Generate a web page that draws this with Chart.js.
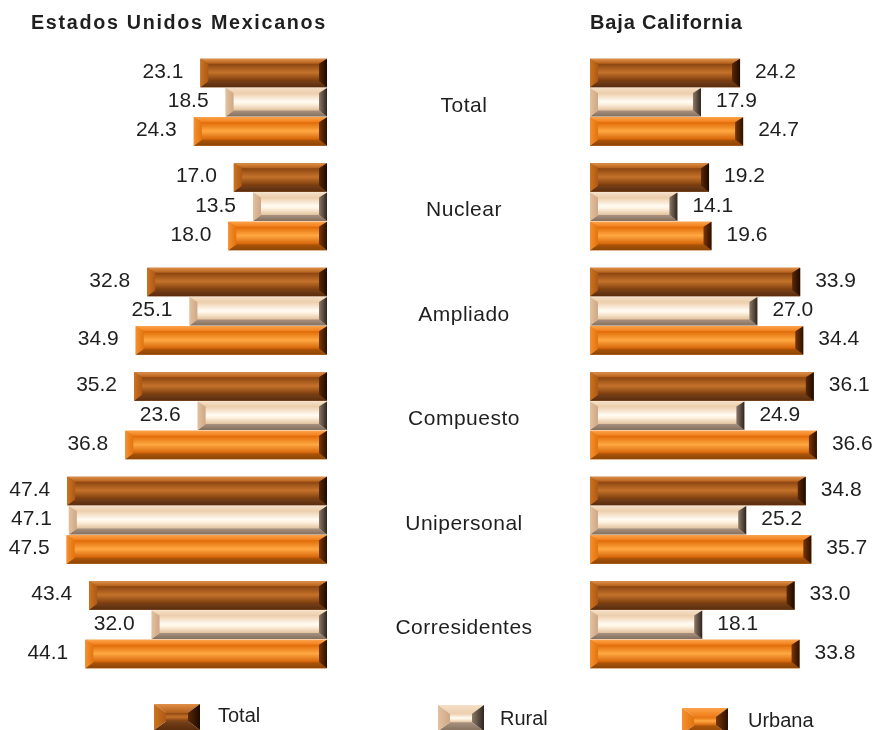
<!DOCTYPE html>
<html><head><meta charset="utf-8">
<script src="https://cdn.jsdelivr.net/npm/chart.js@4.4.1/dist/chart.umd.min.js"></script>
<style>
html,body{margin:0;padding:0;background:#fff;}
#wrap{position:relative;width:873px;height:730px;overflow:hidden;font-family:'Liberation Sans',Arial,sans-serif;}
#wrap canvas.chart{position:absolute;left:0;top:0;}
.legItem{position:absolute;}
.legItem canvas{position:absolute;left:0;top:0;}
.legItem span{position:absolute;white-space:nowrap;font-size:20px;line-height:24px;color:#1f1f1f;}
</style></head><body>
<div id="wrap">
<canvas id="cL" class="chart" width="873" height="730"></canvas>
<canvas id="cR" class="chart" width="873" height="730"></canvas>
<div id="legend"></div>
</div>
<script>
// ---------- data ----------
const categories = ['Total', 'Nuclear', 'Ampliado', 'Compuesto', 'Unipersonal', 'Corresidentes'];
const seriesNames = ['Total', 'Rural', 'Urbana'];
const mexTotal  = [23.1, 17.0, 32.8, 35.2, 47.4, 43.4];
const mexRural  = [18.5, 13.5, 25.1, 23.6, 47.1, 32.0];
const mexUrbana = [24.3, 18.0, 34.9, 36.8, 47.5, 44.1];
const bcTotal   = [24.2, 19.2, 33.9, 36.1, 34.8, 33.0];
const bcRural   = [17.9, 14.1, 27.0, 24.9, 25.2, 18.1];
const bcUrbana  = [24.7, 19.6, 34.4, 36.6, 35.7, 33.8];
const titleMex = 'Estados Unidos Mexicanos';
const titleBC = 'Baja California';

// ---------- styles ----------
const FAMILY = "'Liberation Sans', Arial, sans-serif";
const TEXT = '#1f1f1f';
const palettes = [
  { base:'#9c4f14',
    top:['#e09048','#b35f1b'], face:[[0,'#8a4410'],[0.5,'#c4722a'],[1,'#783a0c']],
    bottom:['#74401a','#5a2c0c'], left:['#cc7420','#ad5816'], right:['#5a2806','#1e0a00'] },
  { base:'#f3d6b6',
    top:['#f6dfc6','#ebcfae'], face:[[0,'#eecdaa'],[0.48,'#fffbf3'],[0.62,'#fff3e2'],[1,'#e2c29c']],
    bottom:['#a89180','#84705e'], left:['#e2c09e','#cfa886'], right:['#8c7a6a','#2e241c'] },
  { base:'#ef7a12',
    top:['#fca24a','#f07c18'], face:[[0,'#e06a06'],[0.5,'#ffa842'],[1,'#d46206']],
    bottom:['#ad5609','#8a4406'], left:['#f59030','#e2740e'], right:['#7a3604','#2a1000'] }
];

function poly(ctx, pts, fill){
  ctx.beginPath();
  ctx.moveTo(pts[0][0], pts[0][1]);
  for (let k = 1; k < pts.length; k++) ctx.lineTo(pts[k][0], pts[k][1]);
  ctx.closePath();
  ctx.fillStyle = fill;
  ctx.fill();
}
function drawBevel(ctx, x0, y0, x1, y1, pal, sz){
  const w = x1 - x0, h = y1 - y0;
  if (w <= 0 || h <= 0) return;
  const bx = Math.min(sz.side, w / 2), bt = Math.min(sz.top, h / 3), bb = Math.min(sz.bottom, h / 3);
  ctx.save();
  let g = ctx.createLinearGradient(0, y0 + bt, 0, y1 - bb);
  pal.face.forEach(s => g.addColorStop(s[0], s[1]));
  ctx.fillStyle = g;
  ctx.fillRect(x0 + bx - 0.5, y0 + bt - 0.5, w - 2 * bx + 1, h - bt - bb + 1);
  g = ctx.createLinearGradient(0, y0, 0, y0 + bt);
  g.addColorStop(0, pal.top[0]); g.addColorStop(1, pal.top[1]);
  poly(ctx, [[x0, y0], [x1, y0], [x1 - bx, y0 + bt], [x0 + bx, y0 + bt]], g);
  g = ctx.createLinearGradient(0, y1 - bb, 0, y1);
  g.addColorStop(0, pal.bottom[0]); g.addColorStop(1, pal.bottom[1]);
  poly(ctx, [[x0, y1], [x1, y1], [x1 - bx, y1 - bb], [x0 + bx, y1 - bb]], g);
  g = ctx.createLinearGradient(x0, 0, x0 + bx, 0);
  g.addColorStop(0, pal.left[0]); g.addColorStop(1, pal.left[1]);
  poly(ctx, [[x0, y0], [x0 + bx, y0 + bt], [x0 + bx, y1 - bb], [x0, y1]], g);
  g = ctx.createLinearGradient(x1 - bx, 0, x1, 0);
  g.addColorStop(0, pal.right[0]); g.addColorStop(1, pal.right[1]);
  poly(ctx, [[x1, y0], [x1 - bx, y0 + bt], [x1 - bx, y1 - bb], [x1, y1]], g);
  ctx.restore();
}

const bevelPlugin = {
  id: 'bevelBars',
  beforeDraw(chart, args, opts){ chart.ctx.letterSpacing = opts.letterSpacing || '0px'; },
  beforeDatasetsDraw(chart){ chart.ctx.letterSpacing = '0px'; },
  afterDatasetsDraw(chart, args, opts){
    const ctx = chart.ctx;
    ctx.letterSpacing = '0px';
    chart.data.datasets.forEach((ds, di) => {
      const meta = chart.getDatasetMeta(di);
      meta.data.forEach((el, i) => {
        const p = el.getProps(['x', 'y', 'base', 'height'], true);
        const x0 = Math.min(p.x, p.base), x1 = Math.max(p.x, p.base);
        drawBevel(ctx, x0, p.y - p.height / 2, x1, p.y + p.height / 2, palettes[di], {side:8, top:5, bottom:6});
        ctx.save();
        ctx.font = '21px ' + FAMILY;
        ctx.fillStyle = TEXT;
        ctx.textBaseline = 'middle';
        const txt = ds.data[i].toFixed(1);
        if (opts.side === 'left') { ctx.textAlign = 'right'; ctx.fillText(txt, x0 - 17, p.y - 1); }
        else { ctx.textAlign = 'left'; ctx.fillText(txt, x1 + 15, p.y - 1); }
        ctx.restore();
      });
    });
    // spacing for the category tick labels drawn afterwards (ticks z = 1)
    ctx.letterSpacing = opts.tickSpacing || '0px';
  },
  afterDraw(chart){ chart.ctx.letterSpacing = '0px'; }
};

function makeDatasets(arrs){
  return arrs.map((d, i) => ({
    label: seriesNames[i], data: d, backgroundColor: palettes[i].base, borderWidth: 0,
    categoryPercentage: 0.842, barPercentage: 0.97
  }));
}

const TITLE_PAD = { top: 11, bottom: 15 };

// ---------- left chart (Estados Unidos Mexicanos) ----------
new Chart(document.getElementById('cL'), {
  type: 'bar',
  data: { labels: categories, datasets: makeDatasets([mexTotal, mexRural, mexUrbana]) },
  options: {
    indexAxis: 'y', responsive: false, animation: false, events: [],
    layout: { padding: { left: 31, right: 546, top: 0, bottom: 53 } },
    scales: {
      x: { display: false, reverse: true, min: 0, max: 54 },
      y: { display: false }
    },
    plugins: {
      legend: { display: false }, tooltip: { enabled: false },
      title: { display: true, text: titleMex, fullSize: false, align: 'center', color: TEXT,
               font: { size: 20, weight: 'bold', family: FAMILY, lineHeight: 1.2 }, padding: TITLE_PAD },
      bevelBars: { side: 'left', letterSpacing: '1.7px' }
    }
  },
  plugins: [bevelPlugin]
});

// ---------- right chart (Baja California) with category labels ----------
const mctx = document.createElement('canvas').getContext('2d');
mctx.font = '21px ' + FAMILY;
const widest = Math.max(...categories.map(c => mctx.measureText(c).width));
const labelCenter = 464, areaLeft = 590;

new Chart(document.getElementById('cR'), {
  type: 'bar',
  data: { labels: categories, datasets: makeDatasets([bcTotal, bcRural, bcUrbana]) },
  options: {
    indexAxis: 'y', responsive: false, animation: false, events: [],
    layout: { padding: { left: 0, right: 35, top: 0, bottom: 53 } },
    scales: {
      x: { display: false, min: 0, max: 40 },
      y: { position: 'left', grid: { display: false, drawTicks: false }, border: { display: false },
           ticks: { crossAlign: 'center', padding: areaLeft - labelCenter - widest / 2, color: TEXT, z: 1, labelOffset: 3.5,
                    font: { size: 21, family: FAMILY } },
           afterFit(scale){ scale.width = areaLeft; scale.paddingTop = 0; scale.paddingBottom = 0; } }
    },
    plugins: {
      legend: { display: false }, tooltip: { enabled: false },
      title: { display: true, text: titleBC, fullSize: false, align: 'start', color: TEXT,
               font: { size: 20, weight: 'bold', family: FAMILY, lineHeight: 1.2 }, padding: TITLE_PAD },
      bevelBars: { side: 'right', letterSpacing: '0.85px', tickSpacing: '0.5px' }
    }
  },
  plugins: [bevelPlugin]
});

// ---------- legend ----------
const legPos = [ {x:154, sy:704, tx:64, ty:715}, {x:438, sy:705, tx:62, ty:718}, {x:682, sy:708, tx:66, ty:720} ];
const legend = document.getElementById('legend');
seriesNames.forEach((name, i) => {
  const lp = legPos[i];
  const item = document.createElement('div');
  item.className = 'legItem';
  item.style.left = lp.x + 'px'; item.style.top = '0px';
  const cv = document.createElement('canvas');
  cv.width = 46; cv.height = 26;
  cv.style.top = lp.sy + 'px';
  drawBevel(cv.getContext('2d'), 0, 0, 46, 26, palettes[i], {side:12, top:9, bottom:9});
  const sp = document.createElement('span');
  sp.textContent = name;
  sp.style.left = lp.tx + 'px'; sp.style.top = (lp.ty - 12) + 'px';
  item.appendChild(cv); item.appendChild(sp);
  legend.appendChild(item);
});
</script>
</body></html>
